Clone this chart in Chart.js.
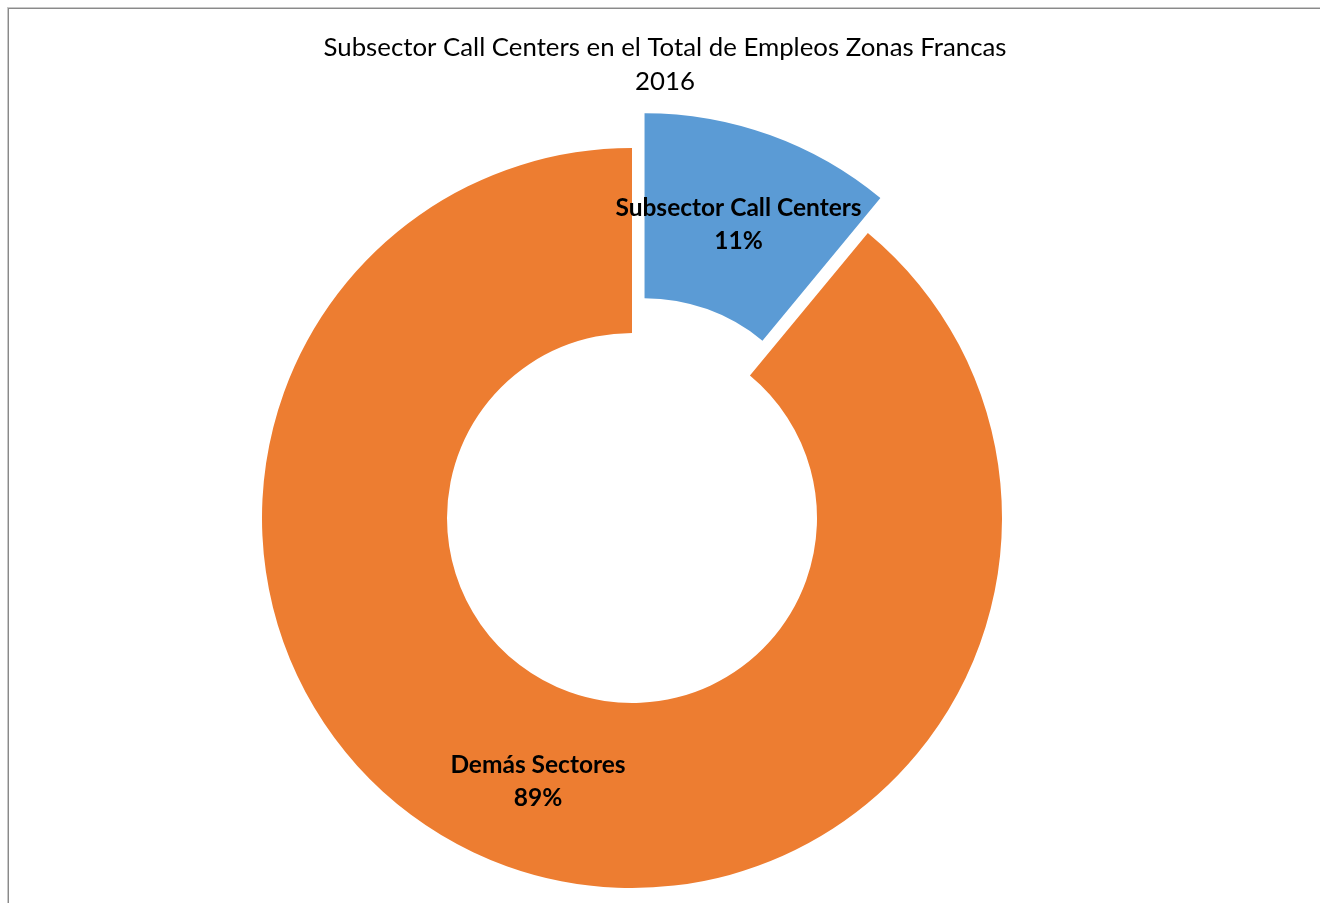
<!DOCTYPE html>
<html>
<head>
<meta charset="utf-8">
<script src="https://cdn.jsdelivr.net/npm/chart.js@4/dist/chart.umd.min.js"></script>
<style>
  html, body { margin: 0; padding: 0; background: #fff; overflow: hidden; }
  .frame { position: absolute; left: 8px; top: 8px; width: 1400px; height: 1000px;
           border-left: 1px solid #8a8a8a; border-top: 1px solid #8a8a8a;
           box-shadow: -1px -1px 0 #c8c8c8; }
  canvas { position: absolute; left: 0; top: 0; }
</style>
</head>
<body>
<div class="frame"></div>
<canvas id="donut" width="1320" height="903"></canvas>
<script>
const titleLines = ['Subsector Call Centers en el Total de Empleos Zonas Francas', '2016'];
const labels = ['Subsector Call Centers', 'Demás Sectores'];
const shares = [11, 89];
const colors = ['#5B9BD5', '#ED7D31'];
const explode = [37, 0]; // px the slice is pulled out, Excel style (no radius growth)

const fontFamily = 'Lato, "Open Sans", sans-serif';

// how far a slice is moved along its middle angle
function pullOut(arc, i) {
  const d = explode[i] || 0;
  const mid = (arc.startAngle + arc.endAngle) / 2;
  return { dx: Math.cos(mid) * d, dy: Math.sin(mid) * d };
}

// title drawn by hand so it can sit a bit right of the ring centre
const titlePlugin = {
  id: 'sheetTitle',
  afterDraw(chart) {
    const ctx = chart.ctx;
    ctx.save();
    ctx.fillStyle = '#000';
    ctx.font = '25.8px ' + fontFamily;
    ctx.textAlign = 'center';
    ctx.textBaseline = 'middle';
    titleLines.forEach((t, i) => ctx.fillText(t, chart.width / 2 + 5, 48 + i * 33.5));
    ctx.restore();
  }
};

const sliceLabels = {
  id: 'sliceLabels',
  afterDatasetsDraw(chart) {
    const ctx = chart.ctx;
    const meta = chart.getDatasetMeta(0);
    const total = shares.reduce((a, b) => a + b, 0);
    ctx.save();
    ctx.fillStyle = '#000';
    ctx.font = 'bold 24.5px ' + fontFamily;
    ctx.textAlign = 'center';
    ctx.textBaseline = 'middle';
    meta.data.forEach((arc, i) => {
      const p = arc.tooltipPosition();
      const s = pullOut(arc, i);
      const pct = Math.round(shares[i] / total * 100) + '%';
      ctx.fillText(labels[i], p.x + s.dx, p.y + s.dy - 14);
      ctx.fillText(pct, p.x + s.dx, p.y + s.dy + 19);
    });
    ctx.restore();
  }
};

// shift exploded arcs while they draw instead of using the built-in offset,
// which also enlarges the slice
const explodeSlices = {
  id: 'explodeSlices',
  beforeDatasetsDraw(chart) {
    chart.getDatasetMeta(0).data.forEach((arc, i) => {
      if (arc._pulled || !explode[i]) return;
      const baseDraw = Object.getPrototypeOf(arc).draw;
      arc.draw = function (ctx) {
        const s = pullOut(this, i);
        ctx.save();
        ctx.translate(s.dx, s.dy);
        baseDraw.call(this, ctx);
        ctx.restore();
      };
      arc._pulled = true;
    });
  }
};

new Chart(document.getElementById('donut'), {
  type: 'doughnut',
  data: {
    labels: labels,
    datasets: [{
      data: shares,
      backgroundColor: colors,
      borderWidth: 0
    }]
  },
  options: {
    responsive: false,
    animation: false,
    radius: 370,
    cutout: '50%',
    layout: { padding: { left: 100, right: 156, top: 150, bottom: 17 } },
    plugins: {
      legend: { display: false },
      title: { display: false },
      tooltip: { enabled: false }
    }
  },
  plugins: [explodeSlices, titlePlugin, sliceLabels]
});
</script>
</body>
</html>
